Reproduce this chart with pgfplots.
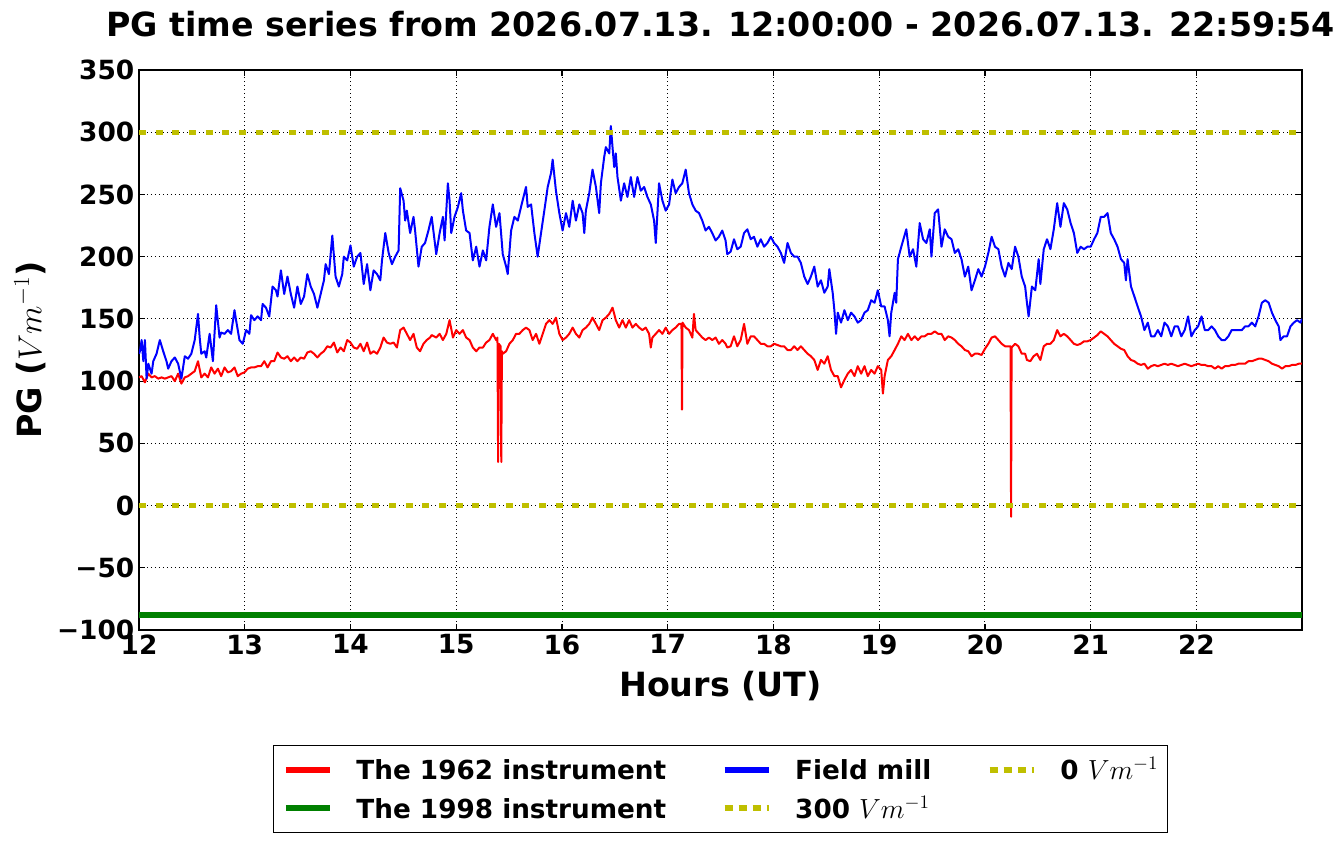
\documentclass[border=0pt]{standalone}
\usepackage[no-math]{fontspec}
\setmainfont{DejaVu Sans}
\usepackage{pgfplots}
\pgfplotsset{compat=1.18}
\definecolor{myyellow}{RGB}{191,191,0}
\definecolor{mygreen}{RGB}{0,128,0}
\begin{document}
\begin{tikzpicture}
\path[use as bounding box] (-104.25pt,-160.5pt) rectangle (902.25pt,472.5pt);
\begin{axis}[
  at={(0,0)}, anchor=south west,
  width=872.25pt, height=420pt, scale only axis,
  xmin=12, xmax=22.9983, ymin=-100, ymax=350,
  xtick={12,13,14,15,16,17,18,19,20,21,22},
  xticklabels={12,13,14,15,16,17,18,19,20,21,22},
  ytick={-100,-50,0,50,100,150,200,250,300,350},
  yticklabels={−100,−50,0,50,100,150,200,250,300,350},
  tick label style={font=\bfseries\fontsize{19.8}{23}\selectfont},
  axis line style={line width=1.1pt},
  tick align=inside, major tick length=4.5pt,
  tick style={black, line width=0.9pt},
  grid=major,
  major grid style={black, line width=0.7pt, dash pattern=on 0.75pt off 2.25pt},
  title={PG time series from 2026.07.13. 12:00:00 - 2026.07.13. 22:59:54},
  title style={font=\bfseries\fontsize{24.95}{30}\selectfont, at={(axis description cs:0.5,1)}, anchor=center, yshift=28.5pt},
  xlabel={Hours (UT)},
  xlabel style={font=\bfseries\fontsize{25}{30}\selectfont, at={(axis description cs:0.5,-0.1)}, anchor=center},
  ylabel={PG ($Vm^{-1}$)},
  ylabel style={font=\bfseries\fontsize{25}{30}\selectfont, at={(axis description cs:-0.0937,0.5)}, anchor=center},
  legend columns=3,
  legend cell align=left,
  legend image code/.code={\draw[#1] (0pt,0pt) -- (33pt,0pt);},
  legend style={at={(axis description cs:0.5,-0.2839)}, anchor=center, draw=black, line width=0.9pt,
    font=\bfseries\fontsize{19.7}{23}\selectfont, inner xsep=7pt, inner ysep=3.5pt, row sep=0pt,
    nodes={inner xsep=0pt, inner ysep=7.4pt, text height=14.4pt, text depth=0pt},
    /tikz/every odd column/.append style={column sep=17.75pt},
    /tikz/every even column/.append style={column sep=41.5pt}},
]
% The 1962 instrument
\addplot[red, line width=1.5pt, line join=round, forget plot] table {
12.000 103
12.025 104
12.056 99
12.088 106
12.119 103
12.150 104
12.182 102
12.213 103
12.245 102
12.276 103
12.307 104
12.339 100
12.370 106
12.401 98
12.433 103
12.464 104
12.495 106
12.527 108
12.558 116
12.589 103
12.621 106
12.652 103
12.683 111
12.715 106
12.746 110
12.777 104
12.809 111
12.840 107
12.871 108
12.903 111
12.934 104
12.966 106
12.997 107
13.028 110
13.060 111
13.091 111
13.122 112
13.154 112
13.185 116
13.216 111
13.248 116
13.279 116
13.310 123
13.342 119
13.373 118
13.404 120
13.436 116
13.467 119
13.498 116
13.530 119
13.561 118
13.592 123
13.624 124
13.655 122
13.687 119
13.718 122
13.749 124
13.781 128
13.812 127
13.843 131
13.875 123
13.906 127
13.937 124
13.969 133
14.000 131
14.031 127
14.063 126
14.094 130
14.125 124
14.157 131
14.188 122
14.219 124
14.251 122
14.282 127
14.313 135
14.345 131
14.376 130
14.408 131
14.439 127
14.470 141
14.502 143
14.533 138
14.564 133
14.596 138
14.627 127
14.658 124
14.690 130
14.721 133
14.752 135
14.768 137
14.811 135
14.843 138
14.874 133
14.906 138
14.937 149
14.969 135
15.000 141
15.031 138
15.063 141
15.094 135
15.126 133
15.157 127
15.189 124
15.220 127
15.252 127
15.283 131
15.314 133
15.346 138
15.377 133
15.390 135
15.396 35
15.402 130
15.420 128
15.426 35
15.432 124
15.440 122
15.472 124
15.503 130
15.535 133
15.566 138
15.597 138
15.629 141
15.660 143
15.692 141
15.723 133
15.755 138
15.786 130
15.818 138
15.849 146
15.881 149
15.912 146
15.943 151
15.975 138
16.006 133
16.038 135
16.069 138
16.101 143
16.132 138
16.164 135
16.195 141
16.226 143
16.258 146
16.289 151
16.321 146
16.352 141
16.384 149
16.415 151
16.447 154
16.478 159
16.494 154
16.509 149
16.541 143
16.572 149
16.604 143
16.635 149
16.667 143
16.698 146
16.730 143
16.761 141
16.792 143
16.824 138
16.840 127
16.855 135
16.887 138
16.918 141
16.950 138
16.981 143
17.013 138
17.044 141
17.075 143
17.107 146
17.130 146
17.135 77
17.140 147
17.170 143
17.201 141
17.233 135
17.248 154
17.264 141
17.296 138
17.327 135
17.358 133
17.390 135
17.421 133
17.453 135
17.484 130
17.516 133
17.547 130
17.563 127
17.595 128
17.627 136
17.658 128
17.690 133
17.722 146
17.753 130
17.785 136
17.816 136
17.848 133
17.880 130
17.911 130
17.943 128
17.975 128
18.006 130
18.038 129
18.070 128
18.101 128
18.133 125
18.165 125
18.196 128
18.228 125
18.259 128
18.291 125
18.323 122
18.354 120
18.386 117
18.418 109
18.449 117
18.481 114
18.513 120
18.544 109
18.576 104
18.608 104
18.639 95
18.671 101
18.703 106
18.734 109
18.766 104
18.797 112
18.829 106
18.861 112
18.892 104
18.924 109
18.956 106
18.987 112
19.019 109
19.035 90
19.051 104
19.082 117
19.114 120
19.146 125
19.177 130
19.209 136
19.240 133
19.272 138
19.304 133
19.336 136
19.367 133
19.399 136
19.430 136
19.462 138
19.494 138
19.525 140
19.557 138
19.589 138
19.620 133
19.652 136
19.684 135
19.715 133
19.747 130
19.778 128
19.810 125
19.842 124
19.873 120
19.905 122
19.937 122
19.968 121
20.000 126
20.032 130
20.063 135
20.095 136
20.127 133
20.158 130
20.190 128
20.222 128
20.242 128
20.247 -9
20.252 127
20.285 130
20.316 128
20.348 122
20.380 122
20.397 117
20.429 116
20.460 120
20.492 122
20.524 117
20.556 128
20.587 130
20.619 130
20.651 133
20.683 141
20.714 136
20.746 138
20.778 136
20.810 133
20.841 130
20.873 129
20.905 130
20.937 132
20.968 132
21.000 133
21.032 135
21.063 137
21.095 140
21.127 138
21.159 136
21.190 133
21.222 130
21.254 128
21.286 126
21.317 125
21.349 120
21.381 117
21.413 116
21.444 114
21.476 113
21.508 114
21.540 110
21.571 112
21.603 113
21.635 112
21.667 113
21.698 114
21.730 113
21.762 114
21.794 113
21.825 112
21.857 113
21.889 114
21.921 113
21.952 112
21.984 113
22.016 114
22.048 113
22.079 113
22.111 112
22.143 112
22.175 110
22.206 112
22.238 110
22.270 112
22.302 112
22.333 113
22.365 113
22.397 114
22.429 114
22.460 114
22.492 116
22.524 116
22.556 117
22.587 118
22.619 118
22.651 117
22.683 116
22.714 114
22.746 113
22.778 112
22.810 110
22.841 112
22.873 112
22.905 113
22.937 113
22.968 114
22.998 114
};
% The 1998 instrument
\addplot[mygreen, line width=5pt, forget plot] table {
12.0 -88
13.0 -88
14.0 -88
15.0 -88
16.0 -88
17.0 -88
18.0 -88
19.0 -88
20.0 -88
21.0 -88
22.0 -88
22.998 -88
};
% Field mill
\addplot[blue, line width=1.5pt, line join=round, forget plot] table {
12.000 122
12.009 124
12.025 133
12.041 116
12.056 133
12.072 102
12.088 114
12.119 106
12.135 116
12.166 122
12.197 133
12.229 124
12.260 116
12.276 110
12.307 116
12.339 119
12.370 114
12.401 102
12.417 111
12.433 120
12.464 118
12.495 122
12.527 133
12.558 154
12.574 135
12.589 122
12.621 124
12.636 119
12.668 138
12.699 116
12.730 161
12.762 135
12.777 139
12.809 138
12.840 141
12.871 138
12.903 157
12.918 149
12.950 133
12.981 130
13.013 141
13.044 138
13.060 153
13.091 149
13.122 152
13.154 149
13.169 162
13.201 159
13.232 152
13.263 176
13.295 173
13.310 168
13.342 189
13.373 170
13.404 184
13.436 170
13.467 159
13.498 176
13.530 162
13.561 168
13.592 186
13.624 176
13.655 170
13.687 159
13.718 170
13.749 181
13.765 194
13.796 186
13.828 217
13.859 184
13.890 176
13.922 186
13.937 200
13.969 197
14.000 209
14.031 192
14.063 200
14.094 203
14.125 178
14.157 194
14.188 173
14.219 189
14.251 186
14.282 181
14.298 197
14.329 219
14.361 203
14.392 194
14.423 200
14.455 205
14.470 255
14.502 245
14.517 229
14.533 237
14.564 219
14.596 232
14.611 221
14.643 192
14.674 208
14.705 211
14.737 221
14.768 232
14.811 202
14.843 219
14.874 232
14.890 213
14.921 259
14.937 245
14.953 219
14.984 232
15.016 240
15.047 251
15.063 237
15.094 221
15.126 219
15.157 197
15.189 208
15.220 192
15.252 205
15.283 197
15.314 224
15.346 242
15.377 224
15.409 235
15.440 202
15.472 192
15.487 186
15.519 221
15.550 232
15.582 229
15.613 240
15.645 251
15.660 256
15.676 240
15.708 242
15.739 219
15.770 200
15.802 219
15.833 237
15.865 256
15.896 267
15.912 278
15.943 253
15.975 235
16.006 221
16.038 235
16.069 224
16.101 245
16.132 229
16.164 242
16.195 235
16.211 219
16.226 237
16.258 251
16.289 270
16.321 256
16.352 235
16.368 259
16.399 280
16.415 288
16.447 283
16.462 305
16.478 288
16.494 272
16.509 283
16.525 264
16.557 245
16.588 259
16.619 248
16.651 264
16.682 248
16.714 264
16.745 253
16.777 256
16.808 248
16.840 242
16.871 229
16.887 211
16.918 259
16.950 245
16.981 237
17.013 242
17.044 262
17.075 251
17.107 256
17.138 259
17.170 270
17.201 251
17.233 242
17.264 237
17.296 235
17.327 229
17.358 221
17.390 224
17.421 219
17.453 213
17.484 216
17.516 221
17.547 213
17.563 202
17.595 204
17.627 214
17.658 206
17.690 208
17.722 219
17.753 222
17.785 214
17.816 216
17.848 208
17.880 214
17.911 208
17.943 211
17.975 216
18.006 211
18.038 208
18.070 203
18.101 195
18.133 211
18.165 203
18.196 200
18.228 200
18.259 195
18.291 184
18.323 178
18.354 184
18.386 192
18.418 176
18.449 181
18.481 171
18.513 176
18.528 190
18.560 171
18.576 157
18.592 138
18.608 155
18.639 147
18.671 157
18.703 149
18.734 155
18.766 152
18.797 147
18.829 149
18.861 155
18.892 157
18.924 165
18.956 163
18.987 173
19.019 160
19.051 160
19.082 149
19.098 136
19.114 155
19.146 171
19.161 163
19.177 198
19.209 208
19.256 222
19.288 200
19.320 206
19.351 192
19.383 227
19.415 214
19.446 211
19.478 222
19.494 200
19.525 235
19.557 238
19.589 208
19.620 222
19.652 216
19.684 214
19.715 203
19.747 206
19.778 198
19.810 184
19.842 192
19.873 173
19.905 181
19.937 190
19.968 184
20.000 192
20.032 203
20.063 216
20.095 208
20.127 206
20.158 192
20.190 184
20.222 195
20.253 190
20.285 208
20.316 200
20.348 184
20.380 176
20.397 163
20.413 152
20.444 176
20.476 173
20.508 198
20.524 178
20.556 206
20.587 214
20.619 206
20.651 222
20.683 243
20.714 224
20.746 243
20.778 238
20.810 227
20.841 219
20.873 203
20.905 208
20.937 206
20.968 208
21.000 208
21.032 214
21.063 219
21.095 232
21.127 232
21.159 235
21.190 219
21.222 214
21.254 208
21.286 198
21.317 195
21.333 181
21.349 198
21.381 176
21.413 168
21.444 160
21.476 152
21.508 141
21.540 147
21.571 136
21.603 136
21.635 141
21.667 136
21.698 147
21.730 144
21.762 136
21.794 144
21.825 144
21.857 136
21.889 141
21.921 152
21.952 136
21.984 141
22.016 144
22.048 152
22.079 141
22.111 141
22.143 144
22.175 141
22.206 136
22.238 133
22.270 133
22.302 136
22.333 141
22.365 141
22.397 141
22.429 141
22.460 144
22.492 144
22.524 147
22.556 144
22.587 152
22.619 163
22.651 165
22.683 163
22.714 155
22.746 149
22.778 144
22.794 133
22.825 136
22.857 136
22.889 144
22.921 147
22.952 149
22.984 147
22.998 150
};
% 300 and 0 reference lines
\addplot[myyellow, line width=4pt, dash pattern=on 5.25pt off 7.25pt, forget plot] table {
12 300
22.9983 300
};
\addplot[myyellow, line width=4pt, dash pattern=on 5.25pt off 7.25pt, forget plot] table {
12 0
22.9983 0
};
% legend, in the reference's order (read column by column)
\addlegendimage{red, line width=4.5pt}
\addlegendentry{The 1962 instrument}
\addlegendimage{blue, line width=4.5pt}
\addlegendentry{Field mill}
\addlegendimage{myyellow, line width=4.5pt, dash pattern=on 6pt off 4.5pt}
\addlegendentry{0 $Vm^{-1}$}
\addlegendimage{mygreen, line width=4.5pt}
\addlegendentry{The 1998 instrument}
\addlegendimage{myyellow, line width=4.5pt, dash pattern=on 6pt off 4.5pt}
\addlegendentry{300 $Vm^{-1}$}
\end{axis}
\end{tikzpicture}
\end{document}
